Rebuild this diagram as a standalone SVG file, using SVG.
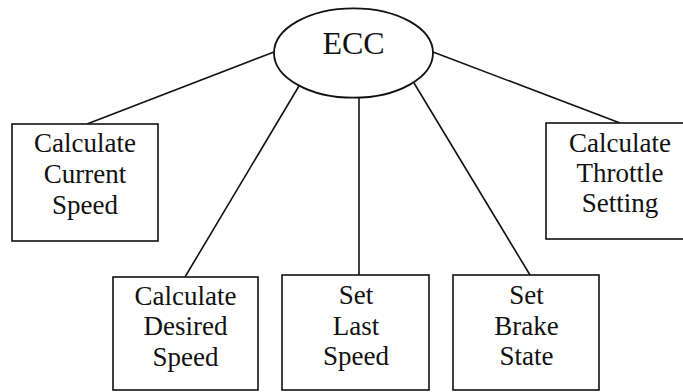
<svg xmlns="http://www.w3.org/2000/svg" width="683" height="392" viewBox="0 0 683 392">
<style>
.box{fill:#fff;stroke:#111;stroke-width:1.6}
.lbl{font-family:"Liberation Serif","Times New Roman",serif;font-size:27px;fill:#111;text-anchor:middle}
.con{stroke:#111;stroke-width:1.6;fill:none}
</style>
<rect width="683" height="392" fill="#fff"/>
<g id="connectors">
<line class="con" x1="274" y1="52" x2="87" y2="124"/>
<line class="con" x1="433" y1="52" x2="620" y2="123"/>
<line class="con" x1="299" y1="86" x2="185" y2="277"/>
<line class="con" x1="359" y1="98" x2="359" y2="275"/>
<line class="con" x1="414" y1="83" x2="530" y2="275"/>
</g>
<g id="ecc">
<ellipse cx="353.5" cy="53" rx="79.5" ry="44.7" fill="#fff" stroke="#111" stroke-width="1.8"/>
<text x="353.5" y="54" font-family="Liberation Serif, Times New Roman, serif" font-size="32" fill="#111" text-anchor="middle">ECC</text>
</g>
<g id="current">
<rect class="box" x="12" y="124" width="146" height="117"/>
<text class="lbl" x="85" y="152">Calculate</text>
<text class="lbl" x="85" y="183">Current</text>
<text class="lbl" x="85" y="214">Speed</text>
</g>
<g id="throttle">
<rect class="box" x="546" y="123" width="150" height="116"/>
<text class="lbl" x="620" y="152">Calculate</text>
<text class="lbl" x="620" y="182">Throttle</text>
<text class="lbl" x="620" y="212">Setting</text>
</g>
<g id="desired">
<rect class="box" x="113" y="277" width="145" height="113"/>
<text class="lbl" x="185.5" y="305">Calculate</text>
<text class="lbl" x="185.5" y="335">Desired</text>
<text class="lbl" x="185.5" y="366">Speed</text>
</g>
<g id="last">
<rect class="box" x="282" y="275" width="147" height="115"/>
<text class="lbl" x="356" y="304">Set</text>
<text class="lbl" x="356" y="335">Last</text>
<text class="lbl" x="356" y="365">Speed</text>
</g>
<g id="brake">
<rect class="box" x="453" y="275" width="146" height="115"/>
<text class="lbl" x="526.5" y="304">Set</text>
<text class="lbl" x="526.5" y="335">Brake</text>
<text class="lbl" x="526.5" y="365">State</text>
</g>
</svg>
